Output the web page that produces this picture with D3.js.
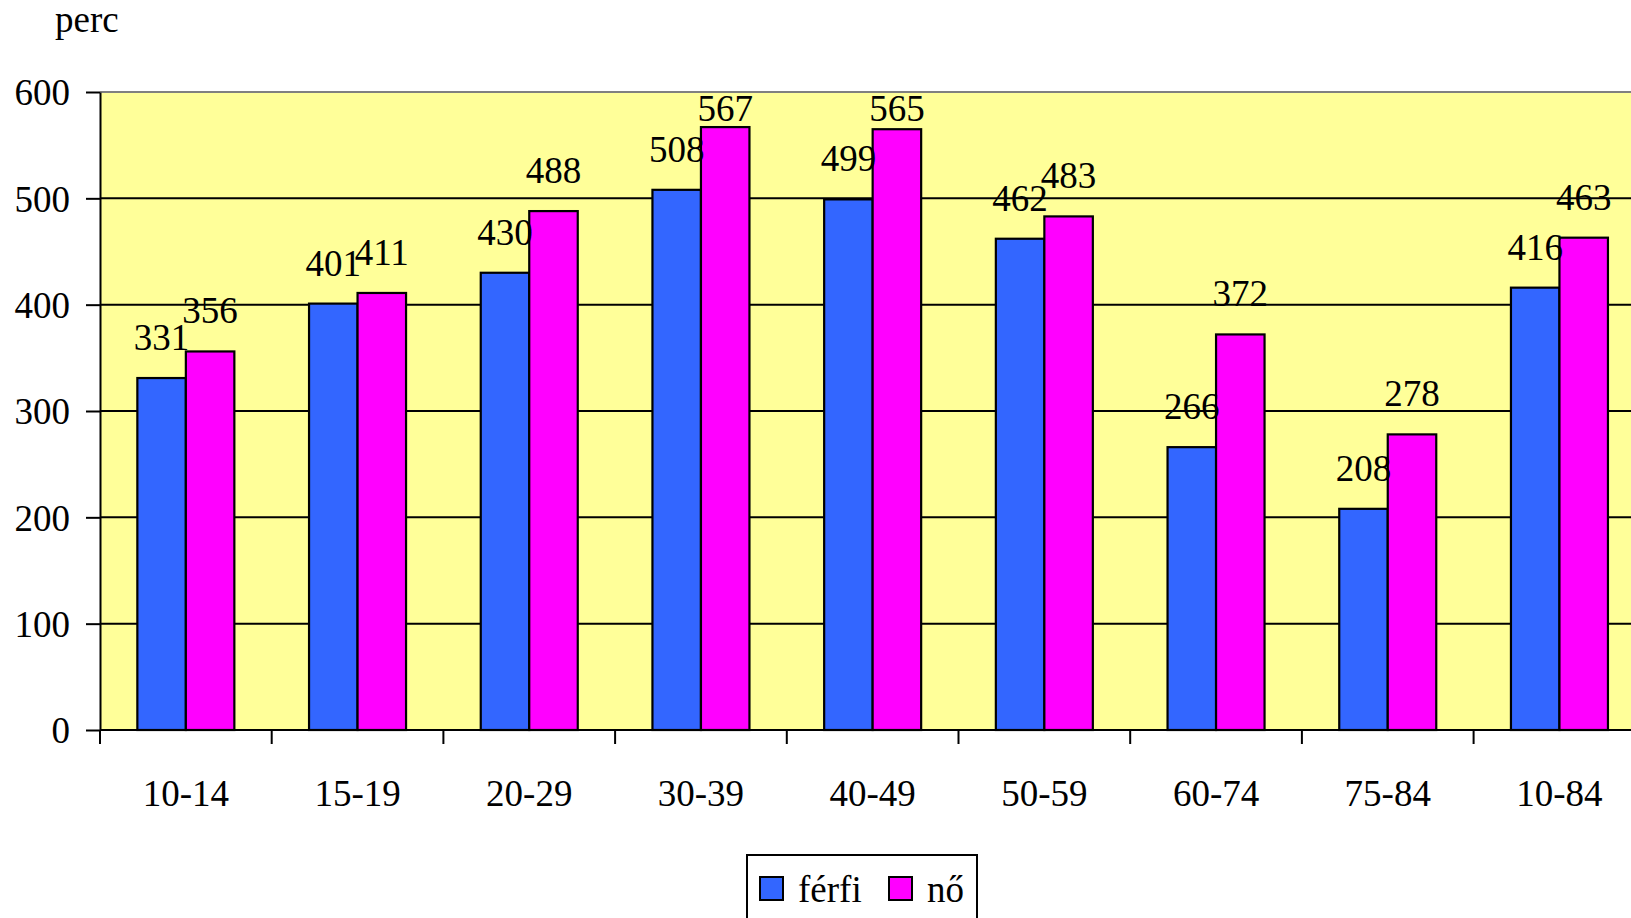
<!DOCTYPE html>
<html>
<head>
<meta charset="utf-8">
<script src="https://cdn.jsdelivr.net/npm/d3@7"></script>
<style>
  body { margin: 0; background: #fff; overflow: hidden; }
  svg { display: block; font-family: "Liberation Serif", "Times New Roman", serif; }
</style>
</head>
<body>
<div id="chart"></div>
<script>
const categories = ["10-14", "15-19", "20-29", "30-39", "40-49", "50-59", "60-74", "75-84", "10-84"];
const ferfi = [331, 401, 430, 508, 499, 462, 266, 208, 416];
const no = [356, 411, 488, 567, 565, 483, 372, 278, 463];
const seriesNames = ["férfi", "nő"];
const yTicks = [0, 100, 200, 300, 400, 500, 600];
const colors = ["#3366FF", "#FF00FF"];

const width = 1631;
const height = 918;
const marginLeft = 100;
const plotTop = 92;
const plotBottom = 730;
const bandW = 171.7;
const fontSize = 37;

const svg = d3.select("#chart").append("svg")
  .attr("width", width)
  .attr("height", height);

const x = d3.scaleBand()
  .domain(categories)
  .range([marginLeft, marginLeft + bandW * categories.length])
  .padding(0);

const x1 = d3.scaleBand()
  .domain(seriesNames)
  .range([0, x.bandwidth()])
  .paddingInner(0)
  .paddingOuter(0.77);

const y = d3.scaleLinear()
  .domain([0, 600])
  .range([plotBottom, plotTop]);

const plotRight = x.range()[1];

// plot background
svg.append("rect")
  .attr("x", marginLeft)
  .attr("y", plotTop)
  .attr("width", plotRight - marginLeft)
  .attr("height", plotBottom - plotTop)
  .attr("fill", "#FFFF99");

// gridlines
svg.append("g")
  .selectAll("line")
  .data(yTicks.filter(d => d > 0 && d < 600))
  .join("line")
  .attr("x1", marginLeft)
  .attr("x2", plotRight)
  .attr("y1", d => y(d))
  .attr("y2", d => y(d))
  .attr("stroke", "#000")
  .attr("stroke-width", 2);

// top border of plot area
svg.append("line")
  .attr("x1", marginLeft)
  .attr("x2", plotRight)
  .attr("y1", y(600))
  .attr("y2", y(600))
  .attr("stroke", "#808080")
  .attr("stroke-width", 2);

const data = categories.map((c, i) => ({ cat: c, values: [ferfi[i], no[i]] }));

// bars
const groups = svg.append("g")
  .selectAll("g")
  .data(data)
  .join("g")
  .attr("transform", d => `translate(${x(d.cat)},0)`);

groups.selectAll("rect")
  .data(d => d.values.map((v, j) => ({ name: seriesNames[j], value: v, j })))
  .join("rect")
  .attr("x", d => x1(d.name))
  .attr("y", d => y(d.value))
  .attr("width", x1.bandwidth())
  .attr("height", d => y(0) - y(d.value))
  .attr("fill", d => colors[d.j])
  .attr("stroke", "#000")
  .attr("stroke-width", 2.2);

// labels stay inside the plot area, like Excel does
groups.selectAll("text")
  .data(d => d.values.map((v, j) => ({ name: seriesNames[j], value: v, j })))
  .join("text")
  .attr("x", d => x1(d.name) + x1.bandwidth() / 2)
  .attr("y", d => Math.max(y(d.value) - 28, plotTop + 29))
  .attr("text-anchor", "middle")
  .attr("font-size", fontSize)
  .attr("fill", "#000")
  .text(d => d.value);

// y axis
svg.append("g")
  .attr("transform", `translate(${marginLeft},0)`)
  .call(d3.axisLeft(y).tickValues(yTicks).tickSize(14).tickPadding(16).tickSizeOuter(0))
  .call(g => g.select(".domain").attr("stroke", "#000").attr("stroke-width", 2))
  .call(g => g.selectAll(".tick line").attr("stroke", "#000").attr("stroke-width", 2))
  .call(g => g.selectAll(".tick text")
    .attr("font-size", fontSize)
    .attr("font-family", "Liberation Serif, Times New Roman, serif")
    .attr("fill", "#000")
    .attr("dy", "0.35em"));

// x axis
const xAxis = svg.append("g")
  .attr("transform", `translate(0,${plotBottom})`);

xAxis.append("line")
  .attr("x1", marginLeft)
  .attr("x2", plotRight)
  .attr("stroke", "#000")
  .attr("stroke-width", 2);

xAxis.selectAll(".tk")
  .data(categories)
  .join("line")
  .attr("class", "tk")
  .attr("x1", d => x(d))
  .attr("x2", d => x(d))
  .attr("y1", 0)
  .attr("y2", 14)
  .attr("stroke", "#000")
  .attr("stroke-width", 2);

xAxis.selectAll("text")
  .data(categories)
  .join("text")
  .attr("x", d => x(d) + x.bandwidth() / 2)
  .attr("y", 76)
  .attr("text-anchor", "middle")
  .attr("font-size", fontSize)
  .attr("fill", "#000")
  .text(d => d);

// axis title
svg.append("text")
  .attr("x", 55)
  .attr("y", 32)
  .attr("font-size", fontSize)
  .attr("fill", "#000")
  .text("perc");

// legend
const legend = svg.append("g");
legend.append("rect")
  .attr("x", 747)
  .attr("y", 855)
  .attr("width", 230)
  .attr("height", 80)
  .attr("fill", "#fff")
  .attr("stroke", "#000")
  .attr("stroke-width", 2);

const legendX = [760, 889];
const legendItems = legend.selectAll("g")
  .data(seriesNames)
  .join("g")
  .attr("transform", (d, i) => `translate(${legendX[i]},877)`);

legendItems.append("rect")
  .attr("width", 23)
  .attr("height", 23)
  .attr("fill", (d, i) => colors[i])
  .attr("stroke", "#000")
  .attr("stroke-width", 2);

legendItems.append("text")
  .attr("x", 38)
  .attr("y", 25)
  .attr("font-size", fontSize)
  .attr("fill", "#000")
  .text(d => d);
</script>
</body>
</html>
